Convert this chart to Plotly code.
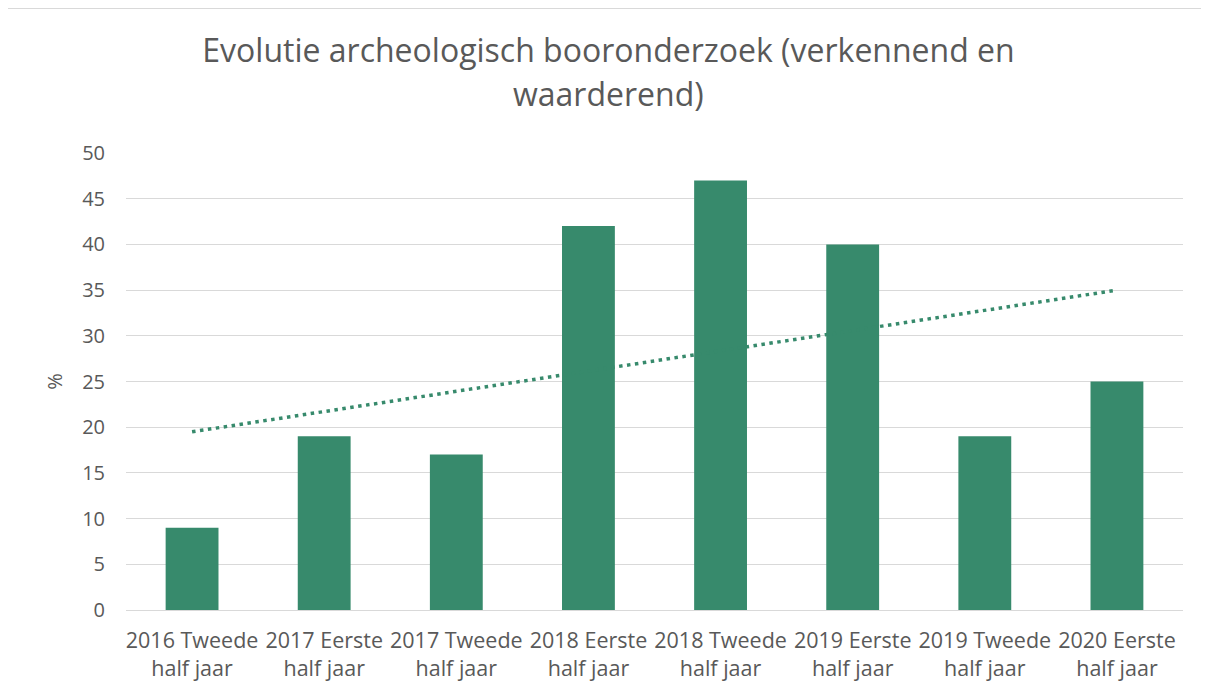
import numpy as np
import plotly.graph_objects as go

categories = ["2016 Tweede<br>half jaar", "2017 Eerste<br>half jaar", "2017 Tweede<br>half jaar",
              "2018 Eerste<br>half jaar", "2018 Tweede<br>half jaar", "2019 Eerste<br>half jaar",
              "2019 Tweede<br>half jaar", "2020 Eerste<br>half jaar"]
values = [9, 19, 17, 42, 47, 40, 19, 25]
y_ticks = [0, 5, 10, 15, 20, 25, 30, 35, 40, 45, 50]
title_lines = ["Evolutie archeologisch booronderzoek (verkennend en", "waarderend)"]

# linear trendline (least squares, like Excel)
idx = np.arange(len(values))
slope, intercept = np.polyfit(idx, values, 1)
trend = slope * idx + intercept

green = "#378A6C"
grey_txt = "#595959"

fig = go.Figure()
fig.add_trace(go.Bar(x=categories, y=values, marker=dict(color=green, line=dict(width=0)),
                     name="%"))
fig.add_trace(go.Scatter(x=categories, y=trend, mode="lines",
                         line=dict(color=green, width=3.5, dash="3.5px,4.5px"), name="Trend"))

# page body has an 8px margin, so the figure is sized to fill the rest of the window
W, H = 1201, 689
ml, mr, mt, mb = 118, 26, 145, 87
pw, ph = W - ml - mr, H - mt - mb

fig.update_layout(
    width=W, height=H,
    margin=dict(l=ml, r=mr, t=mt, b=mb),
    paper_bgcolor="white", plot_bgcolor="white",
    showlegend=False, bargap=0.6,
    font=dict(family="Open Sans, Liberation Sans, sans-serif", color=grey_txt, size=20),
    title=dict(text=title_lines[0],
               x=0.5, xanchor="center", y=1 - 43 / H, yanchor="middle",
               font=dict(size=32, color=grey_txt)),
    annotations=[
        dict(text=title_lines[1], xref="paper", yref="paper", x=(W / 2 - ml) / pw,
             y=(H - 86 - mb) / ph, xanchor="center", yanchor="middle", showarrow=False,
             font=dict(size=32, color=grey_txt)),
    ],
    xaxis=dict(showgrid=False, showline=True, linecolor="#d9d9d9", ticks="",
               tickfont=dict(size=21.5), ticklabelstandoff=11),
    yaxis=dict(range=[0, 50], tickvals=y_ticks, showgrid=True, gridcolor="#d9d9d9",
               zeroline=False, ticks="", ticklabelstandoff=20, tickfont=dict(size=20),
               title=dict(text="%", font=dict(size=20), standoff=14)),
    shapes=[
        dict(type="line", xref="paper", yref="paper",
             x0=-ml / pw, x1=(W - ml) / pw, y0=(H - 0.5 - mb) / ph, y1=(H - 0.5 - mb) / ph,
             line=dict(color="#d9d9d9", width=1)),
    ],
)

fig.write_html("out.html")
